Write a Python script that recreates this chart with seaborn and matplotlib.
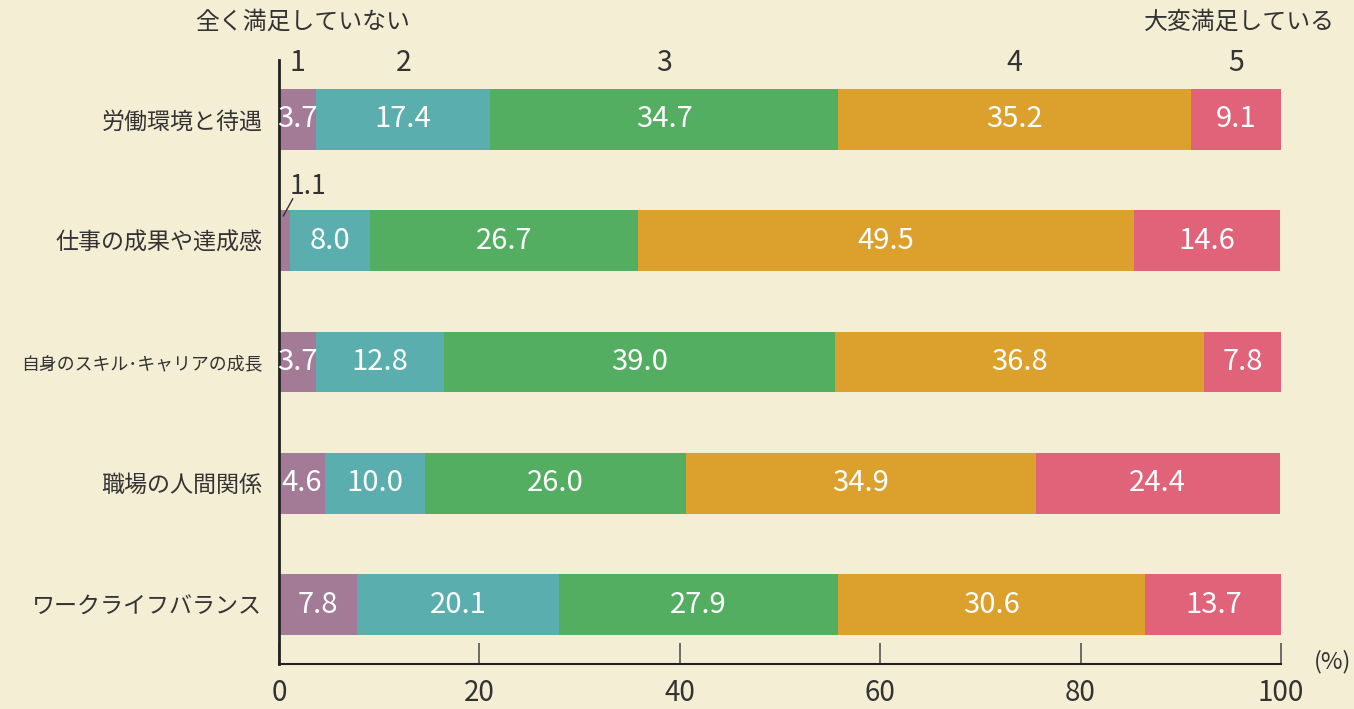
import matplotlib
matplotlib.use("Agg")
import matplotlib.pyplot as plt
import matplotlib.transforms as mtransforms
import numpy as np
import pandas as pd
import seaborn as sns

# ---- data ----
categories = ["労働環境と待遇", "仕事の成果や達成感", "自身のスキル･キャリアの成長",
              "職場の人間関係", "ワークライフバランス"]
s1 = [3.7, 1.1, 3.7, 4.6, 7.8]
s2 = [17.4, 8.0, 12.8, 10.0, 20.1]
s3 = [34.7, 26.7, 39.0, 26.0, 27.9]
s4 = [35.2, 49.5, 36.8, 34.9, 30.6]
s5 = [9.1, 14.6, 7.8, 24.4, 13.7]
levels = ["1", "2", "3", "4", "5"]
xticks = [0, 20, 40, 60, 80, 100]
left_note = "全く満足していない"
right_note = "大変満足している"
unit = "(%)"

colors = ["#A47B97", "#5AAEAE", "#53AE62", "#DCA02D", "#E0637A"]
bg = "#F4EED5"
txt = "#333333"

sns.set_theme(style="white")
plt.rcParams["font.family"] = ["Noto Sans CJK JP", "DejaVu Sans"]

series = [s1, s2, s3, s4, s5]
vals = np.array(series)            # shape (5 levels, 5 categories)
cum = np.cumsum(vals, axis=0)
starts = cum - vals

fig = plt.figure(figsize=(13.54, 7.09), dpi=100)
fig.patch.set_facecolor(bg)
ax = fig.add_axes([279 / 1354, 1 - 664 / 709, (1281 - 279) / 1354, (664 - 60) / 709])
ax.set_facecolor(bg)

# draw cumulative bars from the right-most segment to the left-most
for i in range(len(series) - 1, -1, -1):
    df = pd.DataFrame({"cat": categories, "val": cum[i]})
    sns.barplot(data=df, x="val", y="cat", orient="h", color=colors[i],
                width=0.5, saturation=1, ax=ax, linewidth=0, edgecolor="none")

# value labels
for i in range(len(series)):
    for j in range(len(categories)):
        v = vals[i, j]
        c = starts[i, j] + v / 2
        if v < 2:
            ax.plot([c - 0.15, c + 0.85], [j - 0.2, j - 0.35], color=txt, lw=1,
                    solid_capstyle="butt")
            ax.text(c + 2.3, j - 0.445, f"{v:.1f}", ha="center", va="center",
                    fontsize=19, color=txt)
        else:
            ax.text(c, j, f"{v:.1f}", ha="center", va="center",
                    fontsize=21, color="white")

# level headers above first row segments
trans = mtransforms.blended_transform_factory(ax.transData, ax.transAxes)
for i, lab in enumerate(levels):
    c = starts[i, 0] + vals[i, 0] / 2
    ax.text(c, 0.995, lab, transform=trans, ha="center", va="center",
            fontsize=20.5, color=txt)

ax.set_xlim(0, 100)
ax.set_ylim(4.49, -0.49)
ax.set_xticks(xticks)
ax.set_xticklabels([str(t) for t in xticks], fontsize=20, color=txt)
ax.set_xlabel("")
ax.set_ylabel("")
ax.tick_params(axis="x", direction="in", length=15, width=1.2, color="#555555",
               pad=10, bottom=True)
ax.tick_params(axis="y", length=0, pad=12)
for lab in ax.get_yticklabels():
    lab.set_color(txt)
    lab.set_fontsize(12.9 if len(lab.get_text()) > 11 else 16.6)

for s in ["top", "right"]:
    ax.spines[s].set_visible(False)
ax.spines["left"].set_color("#222222")
ax.spines["left"].set_linewidth(2)
ax.spines["bottom"].set_color("#222222")
ax.spines["bottom"].set_linewidth(1.5)
ax.grid(False)

fig.text(195 / 1354, 1 - 22 / 709, left_note, ha="left", va="center",
         fontsize=17.2, color=txt)
fig.text(1335 / 1354, 1 - 22 / 709, right_note, ha="right", va="center",
         fontsize=17.2, color=txt)
fig.text(1333 / 1354, 1 - 662 / 709, unit, ha="center", va="center",
         fontsize=17, color=txt)

fig.savefig("out.png", dpi=100, facecolor=bg)
